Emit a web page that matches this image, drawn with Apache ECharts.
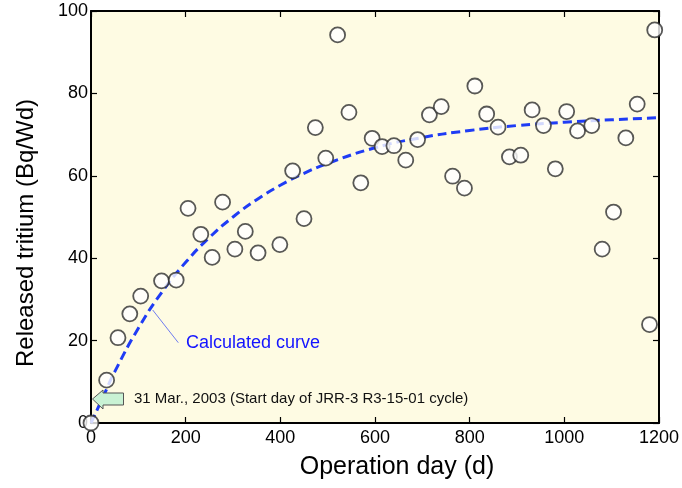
<!DOCTYPE html>
<html>
<head>
<meta charset="utf-8">
<script src="https://cdn.jsdelivr.net/npm/echarts@6/dist/echarts.min.js"></script>
<style>
html,body{margin:0;padding:0;background:#fff;}
#chart{width:682px;height:488px;}
</style>
</head>
<body>
<div id="chart"></div>
<script>
// Measured points: operation day (d) and released tritium (Bq/Wd)
var days = [0, 33, 57, 82, 105, 149, 180, 205, 232, 256, 278, 304, 326, 353, 399, 426, 450, 474, 496, 521,
  545, 570, 594, 615, 640, 665, 690, 715, 740, 764, 789, 811, 836, 860, 884, 908, 932, 956, 981, 1005,
  1028, 1058, 1080, 1104, 1130, 1154, 1180, 1191];
var tritium = [0, 10.4, 20.7, 26.5, 30.8, 34.5, 34.7, 52.1, 45.8, 40.2, 53.6, 42.2, 46.5, 41.3, 43.3, 61.2, 49.6, 71.7, 64.3, 94.2,
  75.4, 58.3, 69.1, 67.1, 67.3, 63.8, 68.8, 74.8, 76.8, 59.9, 57.0, 81.8, 75.0, 71.8, 64.6, 65.0, 76.0, 72.2, 61.7, 75.6,
  70.9, 72.2, 42.2, 51.2, 69.2, 77.4, 23.9, 95.4];
// Calculated curve
var curveDays = [0, 25, 50, 100, 150, 200, 250, 300, 350, 400, 450, 500, 600, 700, 800, 900, 1000, 1100, 1200];
var curveVals = [0, 6.2, 12.4, 23.0, 31.8, 39.0, 45.0, 50.0, 54.2, 57.7, 60.6, 63.0, 66.8, 69.3, 71.0, 72.2, 73.0, 73.6, 74.1];
// Axis ticks
var xMin = 0, xMax = 1200, xStep = 200;
var yMin = 0, yMax = 100, yStep = 20;
var xTitle = 'Operation day (d)';
var yTitle = 'Released tritium (Bq/Wd)';
var curveLabel = 'Calculated curve';
var startNote = '31 Mar., 2003 (Start day of JRR-3 R3-15-01 cycle)';

var FONT = "'Liberation Sans', Arial, Helvetica, sans-serif";
var chart = echarts.init(document.getElementById('chart'), null, {renderer: 'canvas'});

function pairs(a, b) { return a.map(function (v, i) { return [v, b[i]]; }); }
function plain(v) { return String(v); }

var axisCommon = {
  axisLine: {show: true, onZero: false, lineStyle: {color: '#000', width: 2}},
  axisTick: {show: true, inside: true, length: 6, lineStyle: {color: '#000', width: 1.2}},
  splitLine: {show: false}
};

chart.setOption({
  animation: false,
  backgroundColor: '#fff',
  grid: {left: 91, right: 23, top: 11, bottom: 65, show: true, backgroundColor: '#fefbe3', borderWidth: 0},
  xAxis: [
    Object.assign({}, axisCommon, {
      type: 'value', min: xMin, max: xMax, interval: xStep, position: 'bottom',
      axisLabel: {color: '#000', fontSize: 18, fontFamily: FONT, margin: 6, formatter: plain},
      name: xTitle, nameLocation: 'middle', nameGap: 32,
      nameTextStyle: {color: '#000', fontSize: 25, fontFamily: FONT, padding: [0, 0, 0, 44]}
    }),
    Object.assign({}, axisCommon, {
      type: 'value', min: xMin, max: xMax, interval: xStep, position: 'top',
      axisLabel: {show: false}
    })
  ],
  yAxis: [
    Object.assign({}, axisCommon, {
      type: 'value', min: yMin, max: yMax, interval: yStep, position: 'left',
      axisLabel: {color: '#000', fontSize: 18, fontFamily: FONT, margin: 3, formatter: plain},
      name: yTitle, nameLocation: 'middle', nameGap: 53,
      nameTextStyle: {color: '#000', fontSize: 24, fontFamily: FONT, padding: [0, 32, 0, 0]}
    }),
    Object.assign({}, axisCommon, {
      type: 'value', min: yMin, max: yMax, interval: yStep, position: 'right',
      axisLabel: {show: false}
    })
  ],
  series: [
    {
      type: 'line', data: pairs(curveDays, curveVals), smooth: true, symbol: 'none', z: 2,
      lineStyle: {color: '#1f3cf5', width: 3, type: [9, 5]}
    },
    {
      type: 'scatter', data: pairs(days, tritium), symbol: 'circle', symbolSize: 15, clip: false, z: 3,
      itemStyle: {color: '#fff', borderColor: '#2e2e2e', borderWidth: 1.8}
    }
  ]
});

chart.setOption({
  graphic: [
    {type: 'line', shape: {x1: 152.7, y1: 310, x2: 178.3, y2: 342.7}, style: {stroke: '#6f7cf0', lineWidth: 1}, z: 5},
    {type: 'text', left: 186, top: 334, style: {text: curveLabel, fill: '#1414ff', font: '18px ' + FONT}, z: 5},
    {type: 'polygon', shape: {points: [[92.5, 399], [103, 390], [103, 393], [123.5, 393], [123.5, 405], [103, 405], [103, 409], [92.5, 399]]},
      style: {fill: '#c9f2d4', stroke: '#555', lineWidth: 1}, z: 5},
    {type: 'text', left: 134, top: 391, style: {text: startNote, fill: '#111', font: '15px ' + FONT}, z: 5}
  ]
});
</script>
</body>
</html>
